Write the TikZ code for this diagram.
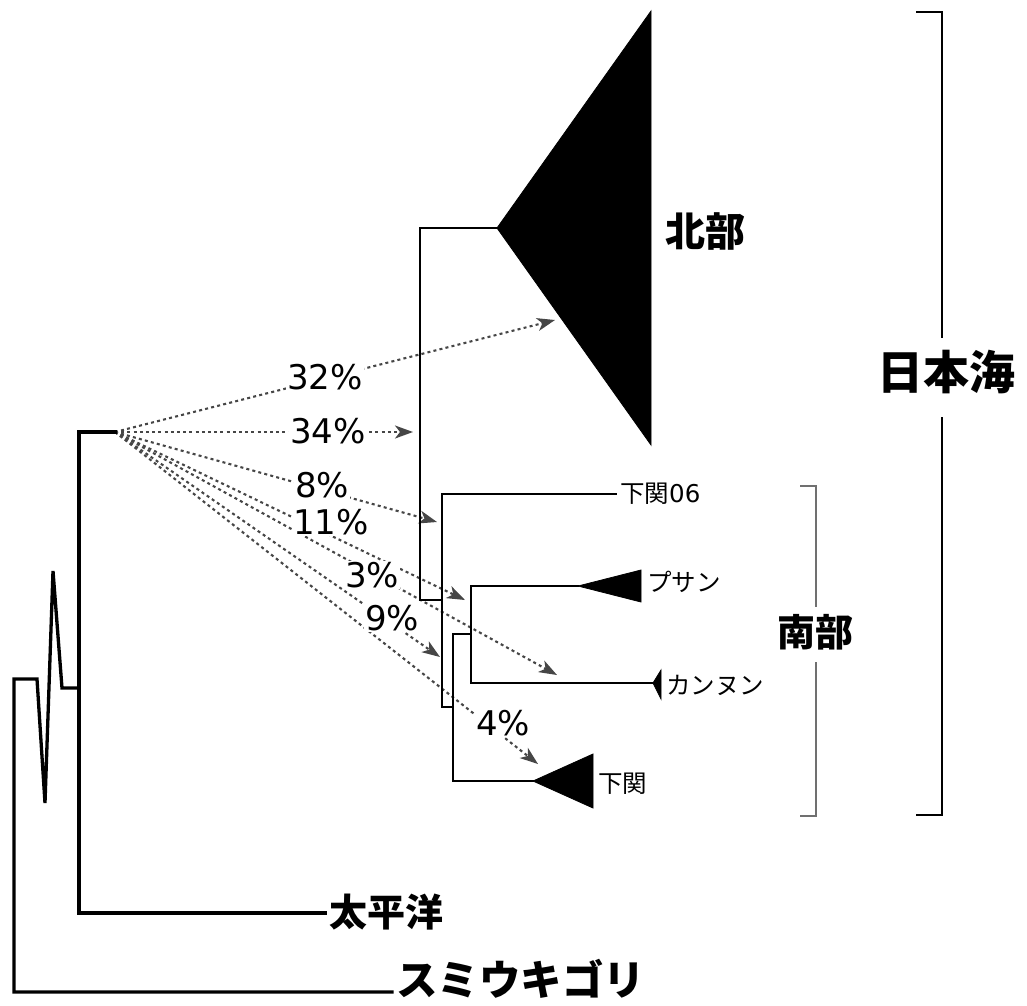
\documentclass[tikz,border=0pt]{standalone}
\usepackage{fontspec}
\usetikzlibrary{arrows.meta}
\newfontfamily\jp{Noto Sans CJK JP}
\newfontfamily\pct{DejaVu Sans}
\definecolor{arrgray}{HTML}{464646}
\definecolor{brgray}{HTML}{707070}
\begin{document}
\begin{tikzpicture}[x=1pt,y=-1pt,
  branch/.style={line width=3.3pt, line join=miter, line cap=rect},
  thinbranch/.style={line width=2.8pt, line join=miter, line cap=rect},
  darr/.style={draw=arrgray, line width=2.1pt, dash pattern=on 3pt off 3.2pt,
    -{Stealth[length=18pt,width=13pt,inset=5pt,color=arrgray,fill=arrgray]}},
  pctlab/.style={fill=white, inner sep=1pt, font=\pct\fontsize{34}{38}\selectfont},
  biglab/.style={font=\jp\bfseries\fontsize{40}{46}\selectfont, inner sep=0pt},
  smalllab/.style={font=\jp\fontsize{24.5}{28}\selectfont, inner sep=0pt, anchor=west},
  tri/.style={fill=black, draw=black, line width=0.8pt, line join=miter}]
\useasboundingbox (0,0) rectangle (1027,1005);

% ---------- coordinates ----------
\coordinate (rootTop) at (14,679);
\coordinate (rootBot) at (14,992);
\coordinate (smiEnd) at (392,992);
\coordinate (zigEnd) at (79,688);
\coordinate (pacTop) at (79,432);
\coordinate (pacBot) at (79,913);
\coordinate (pacEnd) at (325,913);
\coordinate (O) at (115,432);

\coordinate (n1top) at (420,228);
\coordinate (n1bot) at (420,600);
\coordinate (northApex) at (497,228);
\coordinate (n2top) at (442,494);
\coordinate (n2mid) at (442,600);
\coordinate (n2bot) at (442,707);
\coordinate (s06End) at (616,494);
\coordinate (n3top) at (453,634);
\coordinate (n3mid) at (453,707);
\coordinate (n3bot) at (453,781);
\coordinate (shimoApex) at (533,781);
\coordinate (n4top) at (471,586);
\coordinate (n4mid) at (471,634);
\coordinate (n4bot) at (471,683);
\coordinate (busanApex) at (578,586);
\coordinate (gangApex) at (653,683);

\coordinate (t32) at (555,320);
\coordinate (t34) at (413,432);
\coordinate (t8) at (437,522);
\coordinate (t11) at (465,600);
\coordinate (t3) at (557,675);
\coordinate (t9) at (440,657);
\coordinate (t4) at (538,764);

% ---------- dotted migration arrows ----------
\draw[darr] (O) -- (t32);
\draw[darr] (O) -- (t34);
\draw[darr] (O) -- (t8);
\draw[darr] (O) -- (t11);
\draw[darr] (O) -- (t3);
\draw[darr] (O) -- (t9);
\draw[darr] (O) -- (t4);

\node[pctlab] (p32) at (325,377) {32\%};
\node[pctlab] (p34) at (328,431) {34\%};
\node[pctlab] (p8) at (322,485) {8\%};
\node[pctlab] (p11) at (331,522) {11\%};
\node[pctlab] (p3) at (372,575) {3\%};
\node[pctlab] (p9) at (392,618) {9\%};
\node[pctlab] (p4) at (503,723) {4\%};

% ---------- outgroups ----------
\node[biglab, anchor=west, font=\jp\bfseries\fontsize{41.5}{48}\selectfont] (smi) at (396,979) {スミウキゴリ};
\node[biglab, anchor=west, font=\jp\bfseries\fontsize{38}{44}\selectfont] (pac) at (329,912) {太平洋};
\draw[branch] (smiEnd) -- (rootBot) -- (rootTop) -- (37,679) -- (45,803) -- (53,571) -- (62,688) -- (zigEnd);
\draw[branch] (O) -- (pacTop) -- (pacBot) -- (pacEnd);

% ---------- Japan Sea clade ----------
\draw[thinbranch] (northApex) -- (n1top) -- (n1bot) -- (n2mid);
\draw[thinbranch] (s06End) -- (n2top) -- (n2bot) -- (n3mid);
\draw[thinbranch] (n4mid) -- (n3top) -- (n3bot) -- (shimoApex);
\draw[thinbranch] (busanApex) -- (n4top) -- (n4bot) -- (gangApex);

\filldraw[tri] (northApex) -- (651,11) -- (651,445) -- cycle;
\filldraw[tri] (busanApex) -- (641,570) -- (641,602) -- cycle;
\filldraw[tri] (gangApex) -- (661,670) -- (661,699) -- cycle;
\filldraw[tri] (shimoApex) -- (593,754) -- (593,808) -- cycle;

\node[biglab, anchor=west] (north) at (665,231) {北部};
\node[smalllab] (s06) at (620,494) {下関{\pct 06}};
\node[smalllab] (busan) at (647,582) {プサン};
\node[smalllab] (gang) at (666,685) {カンヌン};
\node[smalllab] (shimo) at (598,784) {下関};

% ---------- brackets ----------
\node[biglab, font=\jp\bfseries\fontsize{46}{52}\selectfont] (jsea) at (946,372) {日本海};
\draw[line width=2.8pt] (916,12) -- (942,12) -- (942,338);
\draw[line width=2.8pt] (942,417) -- (942,815) -- (916,815);

\node[biglab, font=\jp\bfseries\fontsize{38}{44}\selectfont] (south) at (815,632) {南部};
\draw[brgray, line width=2pt] (800,486) -- (816,486) -- (816,607);
\draw[brgray, line width=2pt] (816,662) -- (816,816) -- (800,816);
\end{tikzpicture}
\end{document}
